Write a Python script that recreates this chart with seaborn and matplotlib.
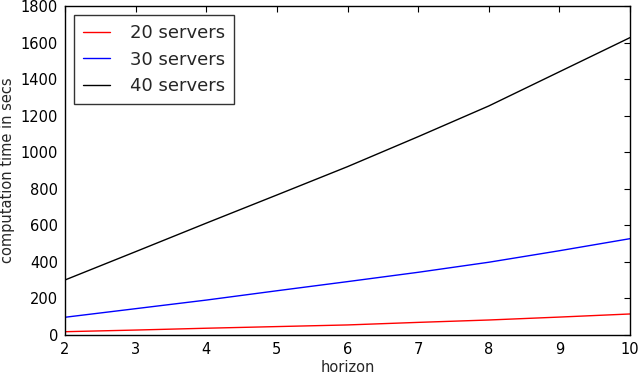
import matplotlib
matplotlib.use("Agg")
import matplotlib.pyplot as plt
import seaborn as sns
import pandas as pd

horizon = [2, 3, 4, 5, 6, 7, 8, 9, 10]
servers_20 = [18, 27, 37, 46, 55, 69, 82, 98, 115]
servers_30 = [97, 144, 191, 242, 292, 343, 398, 461, 527]
servers_40 = [301, 456, 612, 766, 921, 1085, 1253, 1440, 1627]
labels = ["20 servers", "30 servers", "40 servers"]
colors = ["red", "blue", "black"]

rows = []
for lab, vals in zip(labels, [servers_20, servers_30, servers_40]):
    for h, v in zip(horizon, vals):
        rows.append({"horizon": h, "time": v, "series": lab})
df = pd.DataFrame(rows)

sns.set_style("white")
plt.rcParams.update({
    "font.family": ["DejaVu Sans"],
    "xtick.direction": "in",
    "ytick.direction": "in",
    "xtick.top": True,
    "ytick.right": True,
    "xtick.major.size": 4,
    "ytick.major.size": 4,
    "axes.edgecolor": "black",
    "axes.linewidth": 1.0,
})

fig = plt.figure(figsize=(6.4, 3.74), dpi=100)
ax = fig.add_axes([0.1016, 0.1043, 0.8828, 0.8797])
sns.lineplot(data=df, x="horizon", y="time", hue="series",
             palette=dict(zip(labels, colors)), ax=ax, linewidth=1.0)

ax.set_xlim(2, 10)
ax.set_ylim(0, 1800)
ax.set_xticks(horizon)
ax.set_yticks(range(0, 1801, 200))
ax.tick_params(labelsize=10.5, colors="black", width=0.8, pad=5)
ax.set_xlabel("horizon", fontsize=10.5, labelpad=2)
ax.set_ylabel("computation time in secs", fontsize=10.5, labelpad=4)

leg = ax.legend(loc="upper left", fontsize=13, frameon=True, fancybox=False,
                edgecolor="black", handlelength=1.5, handletextpad=1.1,
                borderaxespad=0.5, labelspacing=0.48, borderpad=0.5)
leg.get_frame().set_linewidth(1.0)

fig.savefig("out.png", dpi=100)
